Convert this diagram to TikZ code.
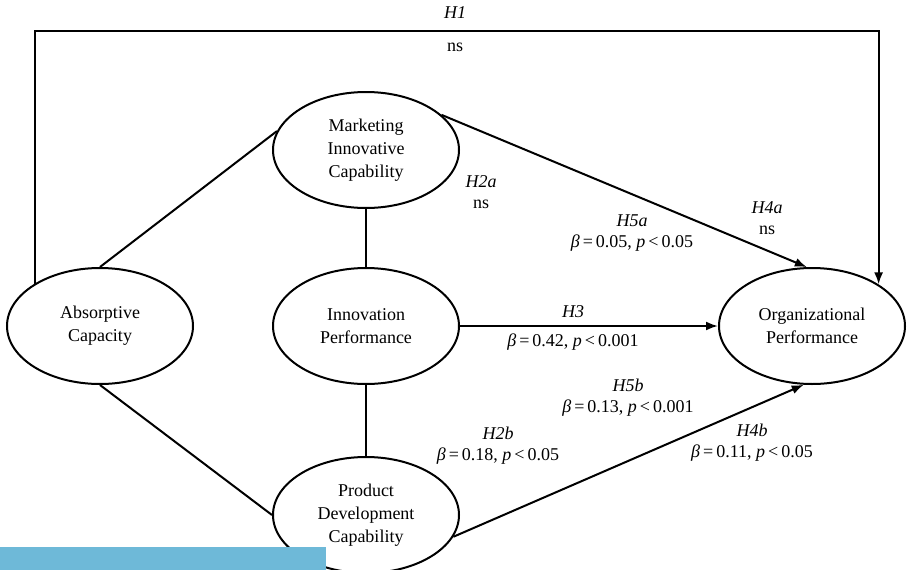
\documentclass[tikz,border=0pt]{standalone}
\usepackage{fontspec}
\setmainfont{Liberation Serif}
\usepackage{tikz}
\usetikzlibrary{positioning, arrows.meta, shapes.geometric}
\definecolor{barblue}{RGB}{110,185,216}

\begin{document}
\begin{tikzpicture}[x=1pt, y=-1pt, font=\fontsize{18}{23}\selectfont,
    var/.style={ellipse, draw, line width=2pt, minimum width=186pt, minimum height=116pt, inner sep=0pt, align=center},
    link/.style={line width=2pt},
    arr/.style={link, -{Latex[length=12pt,width=9pt]}},
    lbl/.style={align=center, inner sep=0pt, font=\fontsize{18}{21}\selectfont}]
    \useasboundingbox (0,0) rectangle (908,570);

    \node[var] (abs) at (100,326) {Absorptive\\Capacity};
    \node[var, right of=abs, node distance=266pt] (ip) {Innovation\\Performance};
    \node[var, above of=ip, node distance=176pt] (mic) {Marketing\\Innovative\\Capability};
    \node[var, below of=ip, node distance=189pt] (pdc) {Product\\Development\\Capability};
    \node[var, right of=ip, node distance=446pt] (org) {Organizational\\Performance};
    \coordinate (top) at (455,31);

    \node[lbl] (h1) at (455,13) {\textit{H1}};
    \node[lbl] (h1ns) at (455,47) {ns};
    \node[lbl] (h2a) at (481,192) {\textit{H2a}\\ns};
    \node[lbl] (h5a) at (632,233) {\textit{H5a}\\\textit{β}\,=\,0.05, \textit{p}\,<\,0.05};
    \node[lbl] (h4a) at (767,218) {\textit{H4a}\\ns};
    \node[lbl] (h3) at (573,312) {\textit{H3}};
    \node[lbl] (h3b) at (573,342) {\textit{β}\,=\,0.42, \textit{p}\,<\,0.001};
    \node[lbl] (h5b) at (628,398) {\textit{H5b}\\\textit{β}\,=\,0.13, \textit{p}\,<\,0.001};
    \node[lbl] (h2b) at (498,446) {\textit{H2b}\\\textit{β}\,=\,0.18, \textit{p}\,<\,0.05};
    \node[lbl] (h4b) at (752,443) {\textit{H4b}\\\textit{β}\,=\,0.11, \textit{p}\,<\,0.05};

    \draw[link] (abs.north) -- (mic.168);
    \draw[link] (abs.south) -- (pdc.west);
    \draw[link] (mic) -- (ip);
    \draw[link] (ip) -- (pdc);
    \draw[arr] (mic.25) -- (org.95);
    \draw[arr] (ip) -- (org);
    \draw[arr] (pdc.-14) -- (org.262);
    \draw[arr] (abs.147) |- (top) -| (org.32);

    \fill[barblue] (0,547) rectangle (326,570);
\end{tikzpicture}
\end{document}
